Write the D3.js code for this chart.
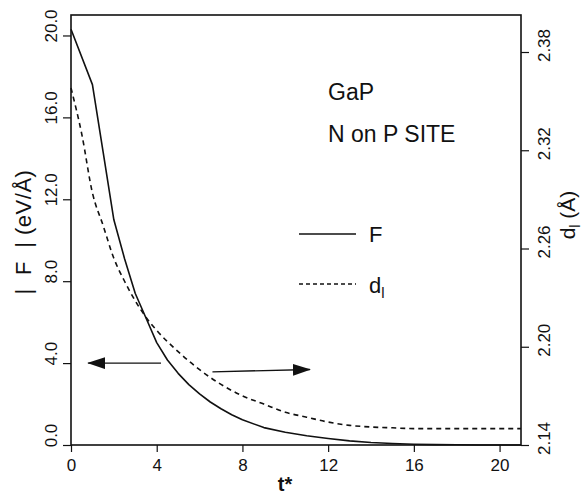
<!DOCTYPE html>
<html>
<head>
<meta charset="utf-8">
<script src="https://cdn.jsdelivr.net/npm/d3@7"></script>
<style>
  html, body { margin: 0; padding: 0; background: #fff; }
  svg { display: block; }
  text { font-family: "Liberation Sans", Arial, Helvetica, sans-serif; fill: #111; }
</style>
</head>
<body>
<svg id="chart" width="584" height="497"></svg>
<script>
// ---- data ----
const tF = [0, 1, 1.5, 2, 2.5, 3, 3.5, 4, 4.5, 5, 5.5, 6, 6.5, 7, 7.5, 8, 9, 10, 11, 12, 13, 14, 15, 16, 17, 18, 19, 20, 21];
const forceF = [20.3, 17.6, 14.3, 11.0, 9.1, 7.4, 6.2, 5.0, 4.15, 3.5, 2.95, 2.5, 2.1, 1.77, 1.48, 1.23, 0.85, 0.62, 0.45, 0.32, 0.2, 0.12, 0.07, 0.04, 0.02, 0.01, 0.0, 0.0, 0.0];
const tD = [0, 0.5, 1, 1.5, 2, 2.5, 3, 3.5, 4, 5, 6, 7, 8, 9, 10, 11, 12, 13, 14, 15, 16, 17, 18, 19, 20, 21];
const distD = [2.358, 2.330, 2.294, 2.274, 2.254, 2.240, 2.228, 2.218, 2.210, 2.197, 2.186, 2.177, 2.170, 2.165, 2.160, 2.157, 2.154, 2.152, 2.151, 2.1505, 2.150, 2.150, 2.150, 2.150, 2.150, 2.150];
const xTicks = [0, 4, 8, 12, 16, 20];
const leftTicks = [0, 4, 8, 12, 16, 20];
const rightTicks = [2.14, 2.20, 2.26, 2.32, 2.38];

// ---- layout ----
const L = 71, R = 521, T = 15, B = 445;
const svg = d3.select("#chart");

const x = d3.scaleLinear().domain([0, 21]).range([L, R]);
const yF = d3.scaleLinear().domain([0, 21]).range([B, T]);
const yD = d3.scaleLinear().domain([2.14, 2.4026]).range([B, T]);

// frame
svg.append("rect").attr("x", L).attr("y", T).attr("width", R - L).attr("height", B - T)
  .attr("fill", "none").attr("stroke", "#111").attr("stroke-width", 1.6);

// bottom axis
const gx = svg.append("g").attr("transform", `translate(0,${B})`)
  .call(d3.axisBottom(x).tickValues(xTicks).tickSize(7).tickSizeOuter(0).tickFormat(d3.format("d")));
gx.select(".domain").remove();
gx.selectAll("line").attr("stroke", "#111").attr("stroke-width", 1.2);
gx.selectAll("text").attr("font-size", 17).attr("y", 14).attr("dy", "0.71em")
  .attr("font-family", "Liberation Sans, Arial, sans-serif").attr("fill", "#111");

// left axis
const gl = svg.append("g").attr("transform", `translate(${L},0)`)
  .call(d3.axisLeft(yF).tickValues(leftTicks).tickSize(8).tickSizeOuter(0).tickFormat(d3.format(".1f")));
gl.select(".domain").remove();
gl.selectAll("line").attr("stroke", "#111").attr("stroke-width", 1.2);
gl.selectAll("text")
  .attr("transform", "rotate(-90)")
  .attr("x", 10).attr("y", -14).attr("dy", 0)
  .attr("text-anchor", "middle")
  .attr("font-size", 17).attr("font-family", "Liberation Sans, Arial, sans-serif").attr("fill", "#111");

// right axis
const gr = svg.append("g").attr("transform", `translate(${R},0)`)
  .call(d3.axisRight(yD).tickValues(rightTicks).tickSize(8).tickSizeOuter(0).tickFormat(d3.format(".2f")));
gr.select(".domain").remove();
gr.selectAll("line").attr("stroke", "#111").attr("stroke-width", 1.2);
gr.selectAll("text")
  .attr("transform", "rotate(-90)")
  .attr("x", 7).attr("y", 29).attr("dy", 0)
  .attr("text-anchor", "middle")
  .attr("font-size", 17).attr("font-family", "Liberation Sans, Arial, sans-serif").attr("fill", "#111");

// curves
const lineF = d3.line().x((d, i) => x(tF[i])).y(d => yF(d)).curve(d3.curveLinear);
const lineD = d3.line().x((d, i) => x(tD[i])).y(d => yD(d)).curve(d3.curveMonotoneX);

svg.append("path").attr("d", lineF(forceF)).attr("fill", "none")
  .attr("stroke", "#111").attr("stroke-width", 1.6).attr("stroke-linejoin", "round");
svg.append("path").attr("d", lineD(distD)).attr("fill", "none")
  .attr("stroke", "#111").attr("stroke-width", 1.6).attr("stroke-dasharray", "5,4");

// arrows
const defs = svg.append("defs");
defs.append("marker").attr("id", "ah").attr("viewBox", "0 0 18 12")
  .attr("refX", 17).attr("refY", 6).attr("markerWidth", 18).attr("markerHeight", 12)
  .attr("markerUnits", "userSpaceOnUse").attr("orient", "auto")
  .append("path").attr("d", "M0,0 L18,6 L0,12 Z").attr("fill", "#111");

svg.append("line").attr("x1", x(4.2)).attr("y1", yF(4.0)).attr("x2", x(0.8)).attr("y2", yF(4.0))
  .attr("stroke", "#111").attr("stroke-width", 1.4).attr("marker-end", "url(#ah)");
svg.append("line").attr("x1", x(6.6)).attr("y1", yF(3.57)).attr("x2", x(11.15)).attr("y2", yF(3.69))
  .attr("stroke", "#111").attr("stroke-width", 1.4).attr("marker-end", "url(#ah)");

// annotations
svg.append("text").attr("x", 328).attr("y", 100).attr("font-size", 23).text("GaP");
svg.append("text").attr("x", 328).attr("y", 142).attr("font-size", 23).text("N on P SITE");

// legend
svg.append("line").attr("x1", 299).attr("x2", 356).attr("y1", 234).attr("y2", 234)
  .attr("stroke", "#111").attr("stroke-width", 1.4);
svg.append("text").attr("x", 369).attr("y", 242).attr("font-size", 22).text("F");
svg.append("line").attr("x1", 299).attr("x2", 356).attr("y1", 284).attr("y2", 284)
  .attr("stroke", "#111").attr("stroke-width", 1.4).attr("stroke-dasharray", "4,3");
const dl = svg.append("text").attr("x", 369).attr("y", 293).attr("font-size", 22);
dl.append("tspan").text("d");
dl.append("tspan").attr("font-size", 15).attr("dy", 5).text("l");

// axis titles
svg.append("text").attr("transform", "translate(31,232) rotate(-90)")
  .attr("text-anchor", "middle").attr("font-size", 22).attr("letter-spacing", 0.5)
  .style("white-space", "pre")
  .text("|  F  | (eV/Å)");
const rt = svg.append("text").attr("transform", "translate(575,215) rotate(-90)")
  .attr("text-anchor", "middle").attr("font-size", 21);
rt.append("tspan").text("d");
rt.append("tspan").attr("font-size", 14).attr("dy", 5).text("l");
rt.append("tspan").attr("dy", -5).text(" (Å)");

svg.append("text").attr("x", 285).attr("y", 491).attr("text-anchor", "middle")
  .attr("font-size", 20).attr("font-weight", "bold").text("t*");
</script>
</body>
</html>
